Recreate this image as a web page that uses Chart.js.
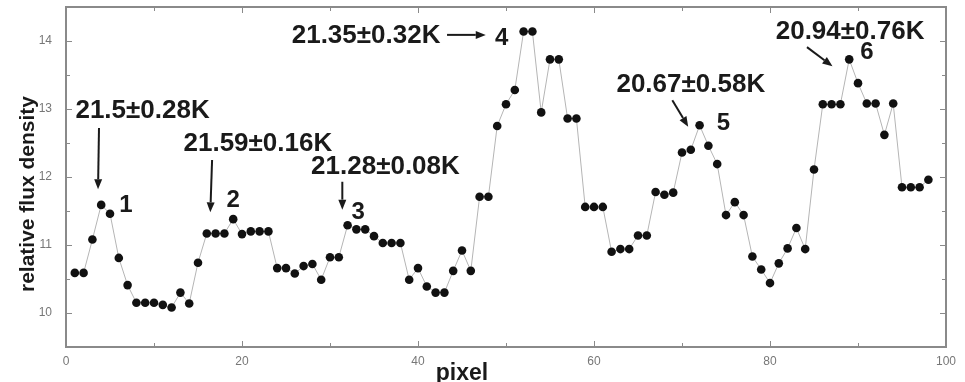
<!DOCTYPE html>
<html>
<head>
<meta charset="utf-8">
<script src="https://cdn.jsdelivr.net/npm/chart.js@4.4.1/dist/chart.umd.min.js"></script>
<style>
  html, body { margin: 0; padding: 0; background: #fff; }
  #wrap { width: 965px; height: 382px; }
</style>
</head>
<body>
<div id="wrap"><canvas id="fluxChart"></canvas></div>
<script>
// pixel index along the cut and the measured relative flux density
const pixels = [
  1, 2, 3, 4, 5, 6, 7, 8, 9, 10, 11, 12, 13, 14, 15, 16, 17, 18, 19, 20,
  21, 22, 23, 24, 25, 26, 27, 28, 29, 30, 31, 32, 33, 34, 35, 36, 37, 38, 39, 40,
  41, 42, 43, 44, 45, 46, 47, 48, 49, 50, 51, 52, 53, 54, 55, 56, 57, 58, 59, 60,
  61, 62, 63, 64, 65, 66, 67, 68, 69, 70, 71, 72, 73, 74, 75, 76, 77, 78, 79, 80,
  81, 82, 83, 84, 85, 86, 87, 88, 89, 90, 91, 92, 93, 94, 95, 96, 97, 98
];
const fluxDensity = [
  10.59, 10.59, 11.08, 11.59, 11.46, 10.81, 10.41, 10.15, 10.15, 10.15,
  10.12, 10.08, 10.30, 10.14, 10.74, 11.17, 11.17, 11.17, 11.38, 11.16,
  11.20, 11.20, 11.20, 10.66, 10.66, 10.58, 10.69, 10.72, 10.49, 10.82,
  10.82, 11.29, 11.23, 11.23, 11.13, 11.03, 11.03, 11.03, 10.49, 10.66,
  10.39, 10.30, 10.30, 10.62, 10.92, 10.62, 11.71, 11.71, 12.75, 13.07,
  13.28, 14.14, 14.14, 12.95, 13.73, 13.73, 12.86, 12.86, 11.56, 11.56,
  11.56, 10.90, 10.94, 10.94, 11.14, 11.14, 11.78, 11.74, 11.77, 12.36,
  12.40, 12.76, 12.46, 12.19, 11.44, 11.63, 11.44, 10.83, 10.64, 10.44,
  10.73, 10.95, 11.25, 10.94, 12.11, 13.07, 13.07, 13.07, 13.73, 13.38,
  13.08, 13.08, 12.62, 13.08, 11.85, 11.85, 11.85, 11.96
];

// temperature estimate for each numbered peak
const peakNames = ['1', '2', '3', '4', '5', '6'];
const peakTemps = ['21.5±0.28K', '21.59±0.16K', '21.28±0.08K', '21.35±0.32K', '20.67±0.58K', '20.94±0.76K'];

// where each label sits, in axis units: text centre, arrow tail/head, peak number
const peakLayout = [
  { text: [8.7, 12.97],  tail: [3.75, 12.72], head: [3.64, 11.82], num: [6.8, 11.59] },
  { text: [21.8, 12.49], tail: [16.6, 12.25], head: [16.4, 11.48], num: [19.0, 11.66] },
  { text: [36.3, 12.15], tail: [31.4, 11.93], head: [31.4, 11.52], num: [33.2, 11.48] },
  { text: [34.1, 14.07], tail: [43.3, 14.09], head: [47.7, 14.09], num: [49.5, 14.04] },
  { text: [71.0, 13.35], tail: [68.9, 13.13], head: [70.7, 12.74], num: [74.7, 12.79] },
  { text: [89.1, 14.13], tail: [84.2, 13.91], head: [87.1, 13.63], num: [91.0, 13.84] }
];

const FONT = '"Liberation Sans", Arial, sans-serif';

function arrow(ctx, x1, y1, x2, y2) {
  const ang = Math.atan2(y2 - y1, x2 - x1);
  const len = 10, half = 4;
  const bx = x2 - Math.cos(ang) * len, by = y2 - Math.sin(ang) * len;
  ctx.beginPath();
  ctx.moveTo(x1, y1);
  ctx.lineTo(bx, by);
  ctx.stroke();
  ctx.beginPath();
  ctx.moveTo(x2, y2);
  ctx.lineTo(bx - Math.sin(ang) * half, by + Math.cos(ang) * half);
  ctx.lineTo(bx + Math.sin(ang) * half, by - Math.cos(ang) * half);
  ctx.closePath();
  ctx.fill();
}

// box around the plot with inward ticks on all four sides
const framePlugin = {
  id: 'frame',
  beforeDatasetsDraw(chart) {
    const { ctx, chartArea: a, scales: { x, y } } = chart;
    ctx.save();
    ctx.strokeStyle = '#8a8a8a';
    ctx.lineWidth = 2;
    ctx.strokeRect(a.left, a.top, a.right - a.left, a.bottom - a.top);
    ctx.lineWidth = 1;
    ctx.beginPath();
    x.ticks.forEach(t => {
      const px = Math.round(x.getPixelForValue(t.value)) + 0.5;
      const len = t.value % 20 === 0 ? 6 : 4;
      ctx.moveTo(px, a.bottom); ctx.lineTo(px, a.bottom - len);
      ctx.moveTo(px, a.top); ctx.lineTo(px, a.top + len);
    });
    y.ticks.forEach(t => {
      const py = Math.round(y.getPixelForValue(t.value)) + 0.5;
      const len = Number.isInteger(t.value) ? 6 : 4;
      ctx.moveTo(a.left, py); ctx.lineTo(a.left + len, py);
      ctx.moveTo(a.right, py); ctx.lineTo(a.right - len, py);
    });
    ctx.stroke();
    ctx.restore();
  }
};

// axis titles and the peak temperature labels
const labelPlugin = {
  id: 'peakLabels',
  afterDatasetsDraw(chart) {
    const { ctx, chartArea: a, scales: { x, y } } = chart;
    const px = v => x.getPixelForValue(v);
    const py = v => y.getPixelForValue(v);
    ctx.save();
    ctx.fillStyle = '#1a1a1a';
    ctx.strokeStyle = '#1a1a1a';
    ctx.lineWidth = 2;
    ctx.textAlign = 'center';
    ctx.textBaseline = 'middle';
    peakLayout.forEach((p, i) => {
      ctx.font = 'bold 26px ' + FONT;
      ctx.fillText(peakTemps[i], px(p.text[0]), py(p.text[1]));
      arrow(ctx, px(p.tail[0]), py(p.tail[1]), px(p.head[0]), py(p.head[1]));
      ctx.font = 'bold 24px ' + FONT;
      ctx.fillText(peakNames[i], px(p.num[0]), py(p.num[1]));
    });

    ctx.font = 'bold 23px ' + FONT;
    ctx.textBaseline = 'top';
    ctx.fillText('pixel', px(45), a.bottom + 15);

    ctx.font = 'bold 21px ' + FONT;
    ctx.textBaseline = 'middle';
    ctx.translate(28, py(11.75));
    ctx.rotate(-Math.PI / 2);
    ctx.fillText('relative flux density', 0, 0);
    ctx.restore();
  }
};

new Chart(document.getElementById('fluxChart'), {
  type: 'line',
  data: {
    datasets: [{
      data: pixels.map((p, i) => ({ x: p, y: fluxDensity[i] })),
      borderColor: '#b5b5b5',
      borderWidth: 1,
      pointRadius: 4.3,
      pointBackgroundColor: '#111',
      pointBorderWidth: 0,
      tension: 0
    }]
  },
  options: {
    responsive: true,
    maintainAspectRatio: false,
    animation: false,
    layout: { padding: { left: 0, right: 19, top: 7, bottom: 0 } },
    plugins: { legend: { display: false }, tooltip: { enabled: false } },
    scales: {
      x: {
        type: 'linear',
        min: 0,
        max: 100,
        grid: { display: false, drawTicks: false },
        border: { display: false },
        afterFit: s => { s.height = 35; s.paddingLeft = 0; s.paddingRight = 0; },
        ticks: {
          stepSize: 10,
          autoSkip: false,
          maxRotation: 0,
          padding: 7,
          color: '#777',
          font: { family: FONT, size: 12 },
          callback: v => (v % 20 === 0 ? v : '')
        }
      },
      y: {
        min: 9.5,
        max: 14.5,
        grid: { display: false, drawTicks: false },
        border: { display: false },
        afterFit: s => { s.width = 66; s.paddingTop = 0; s.paddingBottom = 0; },
        ticks: {
          stepSize: 0.5,
          autoSkip: false,
          padding: 14,
          color: '#777',
          font: { family: FONT, size: 12 },
          callback: v => (Number.isInteger(v) ? v : '')
        }
      }
    }
  },
  plugins: [framePlugin, labelPlugin]
});
</script>
</body>
</html>
